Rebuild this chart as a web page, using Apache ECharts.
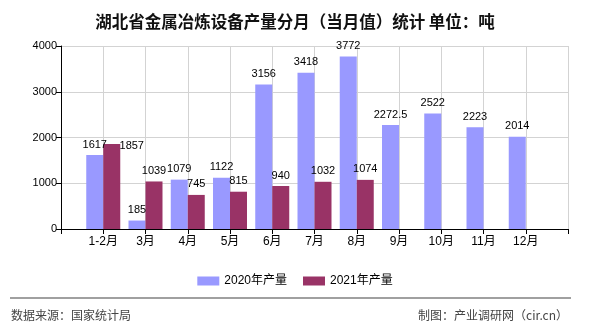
<!DOCTYPE html>
<html>
<head>
<meta charset="utf-8">
<script src="https://cdn.jsdelivr.net/npm/echarts@6/dist/echarts.min.js"></script>
<style>
html,body{margin:0;padding:0;background:#fff;}
#chart{width:590px;height:330px;}
</style>
</head>
<body>
<div id="chart"></div>
<script>
var titleText = '湖北省金属冶炼设备产量分月（当月值）统计 单位：吨';
var categories = ['1-2月','3月','4月','5月','6月','7月','8月','9月','10月','11月','12月'];
var seriesNames = ['2020年产量','2021年产量'];
var values2020 = [1617, 185, 1079, 1122, 3156, 3418, 3772, 2272.5, 2522, 2223, 2014];
var values2021 = [1857, 1039, 745, 815, 940, 1032, 1074, null, null, null, null];
var yTicks = [0, 1000, 2000, 3000, 4000];
var sourceText = '数据来源：国家统计局';
var creditText = '制图：产业调研网（cir.cn）';

var FONT = '"Liberation Sans", "Noto Sans CJK SC", sans-serif';
// pad the category axis with a blank slot on each side
var axisData = [''].concat(categories).concat(['']);
function pad(arr){ return [null].concat(arr).concat([null]); }

var d2021 = pad(values2021).map(function(v, i){
  if (i === 1) {
    return {value: v, label: {offset: [20, 12]}};
  }
  return v;
});

var chart = echarts.init(document.getElementById('chart'), null, {renderer: 'canvas'});
chart.setOption({
  animation: false,
  backgroundColor: '#ffffff',
  title: {
    text: titleText,
    left: 'center',
    top: 8,
    textStyle: {fontSize: 16.5, fontWeight: 'bold', color: '#111', fontFamily: '"Noto Sans CJK SC", sans-serif'}
  },
  legend: {
    data: seriesNames,
    left: 'center',
    top: 270,
    icon: 'rect',
    itemWidth: 22,
    itemHeight: 9,
    itemGap: 16,
    textStyle: {fontSize: 12, color: '#000', fontFamily: FONT}
  },
  grid: {left: 61, right: 22, top: 46, bottom: 101, containLabel: false},
  xAxis: {
    type: 'category',
    data: axisData,
    boundaryGap: false,
    axisLine: {lineStyle: {color: '#000', width: 1}},
    axisTick: {show: true, interval: 0, length: 5, lineStyle: {color: '#000'}},
    axisLabel: {interval: 0, margin: 7, fontSize: 12, color: '#000', fontFamily: FONT},
    splitLine: {show: true, interval: 0, lineStyle: {color: '#d3d3d3', width: 1}}
  },
  yAxis: {
    type: 'value',
    min: yTicks[0],
    max: yTicks[yTicks.length - 1],
    interval: 1000,
    axisLine: {show: true, lineStyle: {color: '#000', width: 1}},
    axisTick: {show: true, length: 5, lineStyle: {color: '#000'}},
    axisLabel: {margin: 4, fontSize: 11, color: '#000', fontFamily: FONT, formatter: function(v){ return String(v); }},
    splitLine: {show: true, lineStyle: {color: '#d3d3d3', width: 1}}
  },
  series: [
    {
      name: seriesNames[0],
      type: 'bar',
      data: pad(values2020),
      barWidth: 17,
      barGap: '0%',
      itemStyle: {color: '#9999ff'},
      label: {show: true, position: 'top', distance: 5, fontSize: 11, color: '#000', fontFamily: FONT}
    },
    {
      name: seriesNames[1],
      type: 'bar',
      data: d2021,
      barWidth: 17,
      barGap: '0%',
      itemStyle: {color: '#993366'},
      label: {show: true, position: 'top', distance: 5, fontSize: 11, color: '#000', fontFamily: FONT}
    }
  ],
  graphic: [
    {type: 'line', shape: {x1: 10, y1: 298, x2: 571, y2: 298}, style: {stroke: '#808080', lineWidth: 1.5}},
    {type: 'text', left: 11, top: 309, style: {text: sourceText, fontSize: 12, fill: '#444', fontFamily: '"Noto Sans CJK SC", sans-serif'}},
    {type: 'text', right: 22, top: 309, style: {text: creditText, fontSize: 12, fill: '#444', fontFamily: '"Noto Sans CJK SC", sans-serif'}}
  ]
});
</script>
</body>
</html>
